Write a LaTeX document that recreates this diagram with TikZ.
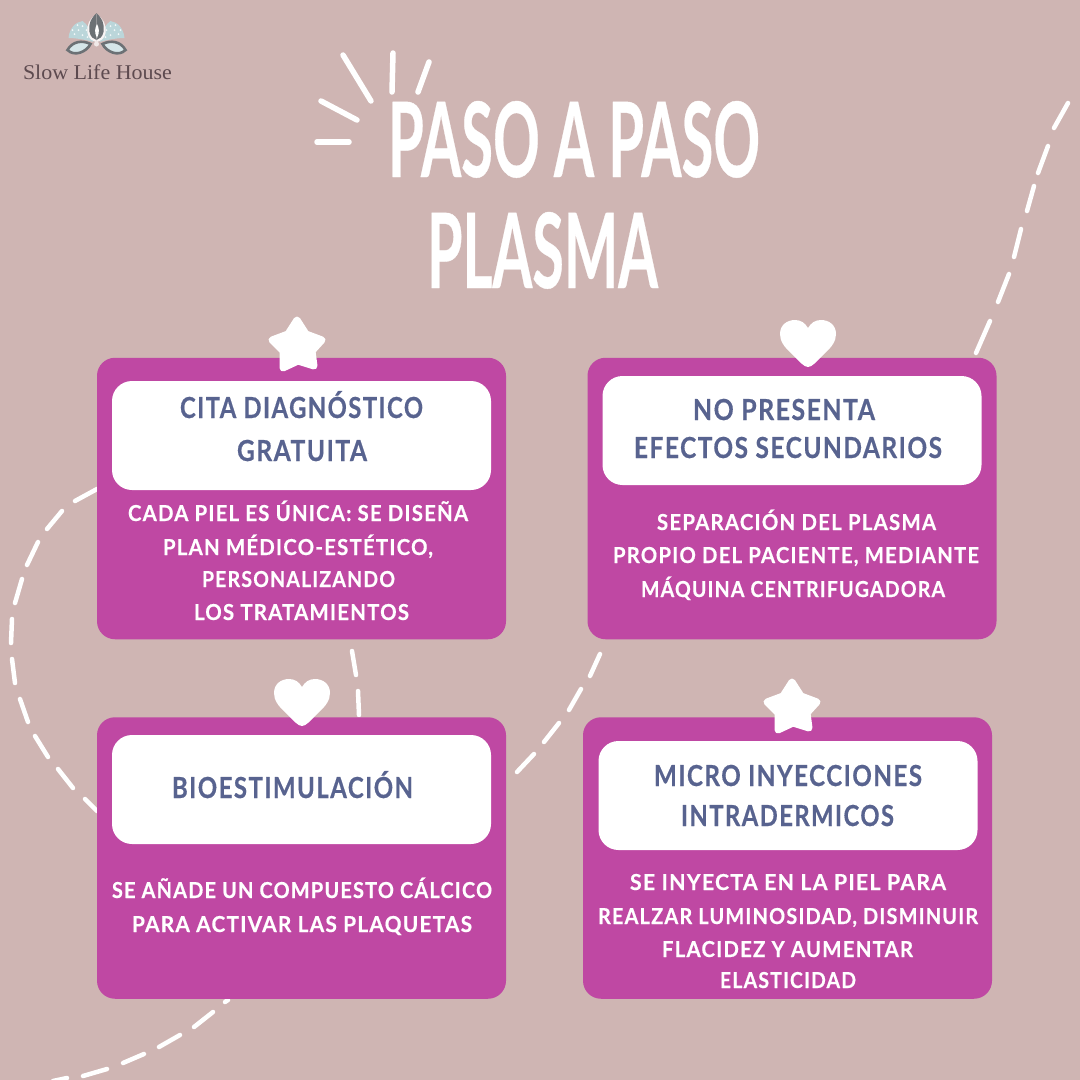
\documentclass[tikz,border=0pt]{standalone}
\usepackage{fontspec}
\usepackage{graphicx}
\setmainfont{Lato}
\newfontfamily\titlefont[FakeBold=0.4]{Lato}
\newfontfamily\capsfont[LetterSpace=6,FakeBold=0.5]{Lato}
\newfontfamily\logofont{Liberation Serif}
\definecolor{bgc}{HTML}{CFB5B3}
\definecolor{cardc}{HTML}{BF48A3}
\definecolor{navyc}{HTML}{58638F}
\definecolor{logoc}{HTML}{5D4A4F}
\definecolor{petalc}{HTML}{6C7175}
\definecolor{fanc}{HTML}{BBD6DA}
\tikzset{
  cardbox/.style={fill=cardc,rounded corners=18pt,minimum width=409pt,minimum height=281.5pt,inner sep=0pt},
  whitebox/.style={fill=white,rounded corners=20pt,minimum width=379pt,minimum height=109pt,inner sep=0pt},
  headtext/.style={anchor=base,inner sep=0pt,text=navyc,font=\capsfont\bfseries\fontsize{29}{29}\selectfont},
  bodytext/.style={anchor=base,inner sep=0pt,text=white,font=\capsfont\bfseries\fontsize{22}{22}\selectfont},
  titletext/.style={anchor=base,inner sep=0pt,text=white,font=\titlefont\bfseries\fontsize{104}{104}\selectfont},
  dashline/.style={white,line width=4.5pt,line cap=round},
  rayline/.style={white,line width=5.5pt,line cap=round},
  starshape/.style={fill=white,draw=white,line width=7pt,line join=round},
  heartshape/.style={fill=white}
}
\newcommand{\fitline}[6]{\node[#5] (#1) at (#2,#3) {\resizebox{#4pt}{\height}{#6}};}
\begin{document}
\begin{tikzpicture}[x=1pt,y=-1pt]
\useasboundingbox (0,0) rectangle (1080,1080);
\fill[bgc] (0,0) rectangle (1080,1080);
% dashed trails
\foreach \a/\b/\c/\d in {1068/103/1054/128,1048/146/1038/173,1034/186/1027/211,1021/229/1014/257,1009/274/998/302,990/321/976/353,
 352/651/356/675,358/691/359/715,600/654/590/676,581/689/569/710,559/723/544/742,534/754/517/772,
 97/489/75/501,62/511/47/529,38/542/27/565,22/579/15/603,12/619/11/643,12/659/15/683,20/699/28/722,35/736/48/757,58/769/73/788,85/799/97/811,
 228/1000/225/1002,213/1012/194/1027,180/1035/159/1047,144/1054/123/1063,107/1069/83/1076,67/1078/53/1081}
  \draw[dashline] (\a,\b) -- (\c,\d);
% rays
\foreach \a/\b/\c/\d in {343/55/371/101,393/53/392/92,429/62/418/92,321/101/357/120,317/142/349/142}
  \draw[rayline] (\a,\b) -- (\c,\d);
% logo
\begin{scope}
 \foreach \s in {1,-1}{
  \begin{scope}[shift={(96.5,0)},xscale=\s]
   \fill[fanc] (3,42) .. controls (5,32) and (9,24) .. (14,21) .. controls (21,22) and (27,28) .. (28,38) .. controls (20,38) and (10,40) .. (3,42) -- cycle;
   \foreach \px/\py in {10/30,14/26,18/30,22/34,14/35,19/25,24/30,9/37}
     \fill[white!80!fanc] (\px,\py) circle [radius=1pt];
   \draw[petalc,line width=2.6pt,fill=fanc!60!white] (6,44) .. controls (14,40) and (24,41) .. (29,50) .. controls (22,57) and (10,52) .. (6,44) -- cycle;
   \fill[white!85!bgc] (0,14) .. controls (7,19) and (10,24) .. (9,33) .. controls (8,39) and (4,41) .. (0,42) -- cycle;
   \fill[petalc] (0,13) .. controls (5,18) and (8,22) .. (7,32) .. controls (6,37) and (3,39) .. (0,40) -- cycle;
  \end{scope}}
 \fill[white] (97,24) .. controls (99,28) and (100,32) .. (97,38) .. controls (94,32) and (95,28) .. (97,24) -- cycle;
 \fill[white!70!bgc] (96.5,44) circle [radius=2.5pt];
\end{scope}
\fitline{logo}{97.5}{79}{149}{anchor=base,inner sep=0pt,text=logoc,font=\logofont\fontsize{21}{21}\selectfont}{Slow Life House}
% title
\fitline{t1}{574}{177}{372}{titletext}{PASO A PASO}
\fitline{t2}{542.5}{288}{231}{titletext}{PLASMA}
% cards
\node[cardbox] (c1) at (301.5,498.5) {};
\node[cardbox] (c2) at (792,498.5) {};
\node[cardbox] (c3) at (301.5,858) {};
\node[cardbox] (c4) at (787.5,858) {};
\node[whitebox] (w1) at (301.5,435.5) {};
\node[whitebox] (w2) at (792,430.5) {};
\node[whitebox] (w3) at (301.5,789.5) {};
\node[whitebox] (w4) at (788,795.5) {};
% stars
\foreach \dx/\dy in {0/0,495/362}
 \filldraw[starshape,shift={(\dx,\dy)}] (297,320) -- (306,334) -- (322,340) -- (312,351) -- (314,366) -- (298,361) -- (283,368) -- (283,351) -- (272,340) -- (288,334) -- cycle;
% hearts
\foreach \dx/\dy in {780/320,274/679}
 \fill[heartshape,shift={(\dx,\dy)}] (28,47) .. controls (24,47) and (20,42) .. (12,34) .. controls (4,27) and (0,21) .. (0,14) .. controls (0,5) and (7,0) .. (15,0) .. controls (21,0) and (25,3) .. (28,8) .. controls (31,3) and (35,0) .. (41,0) .. controls (49,0) and (56,5) .. (56,14) .. controls (56,21) and (52,27) .. (44,34) .. controls (36,42) and (32,47) .. (28,47) -- cycle;
% card 1
\fitline{h11}{301.5}{418}{243}{headtext}{CITA DIAGNÓSTICO}
\fitline{h12}{302}{461}{130}{headtext}{GRATUITA}
\fitline{b11}{298}{521}{340}{bodytext}{CADA PIEL ES ÚNICA: SE DISEÑA}
\fitline{b12}{298}{555}{270}{bodytext}{PLAN MÉDICO-ESTÉTICO,}
\fitline{b13}{298.5}{587}{193}{bodytext}{PERSONALIZANDO}
\fitline{b14}{301.5}{620}{215}{bodytext}{LOS TRATAMIENTOS}
% card 2
\fitline{h21}{784}{420}{182}{headtext}{NO PRESENTA}
\fitline{h22}{788}{458}{308}{headtext}{EFECTOS SECUNDARIOS}
\fitline{b21}{796.5}{530}{279}{bodytext}{SEPARACIÓN DEL PLASMA}
\fitline{b22}{796}{563}{366}{bodytext}{PROPIO DEL PACIENTE, MEDIANTE}
\fitline{b23}{793}{597}{304}{bodytext}{MÁQUINA CENTRIFUGADORA}
% card 3
\fitline{h31}{292.5}{798}{241}{headtext}{BIOESTIMULACIÓN}
\fitline{b31}{302}{898}{380}{bodytext}{SE AÑADE UN COMPUESTO CÁLCICO}
\fitline{b32}{302}{932}{340}{bodytext}{PARA ACTIVAR LAS PLAQUETAS}
% card 4
\fitline{h41}{788}{786}{268}{headtext}{MICRO INYECCIONES}
\fitline{h42}{787.5}{826}{213}{headtext}{INTRADERMICOS}
\fitline{b41}{788}{890}{316}{bodytext}{SE INYECTA EN LA PIEL PARA}
\fitline{b42}{788}{924}{380}{bodytext}{REALZAR LUMINOSIDAD, DISMINUIR}
\fitline{b43}{787.5}{957}{251}{bodytext}{FLACIDEZ Y AUMENTAR}
\fitline{b44}{788}{988}{136}{bodytext}{ELASTICIDAD}
\end{tikzpicture}
\end{document}
